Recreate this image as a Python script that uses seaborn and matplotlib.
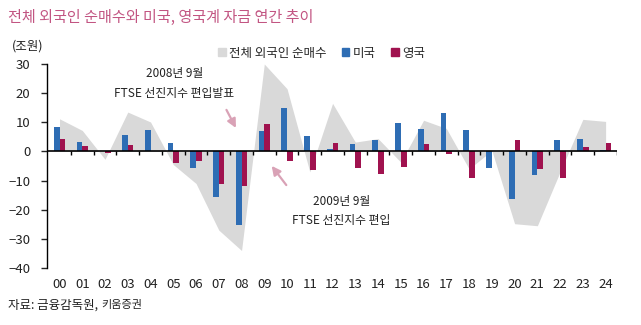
import numpy as np
import pandas as pd
import matplotlib
matplotlib.use("Agg")
import matplotlib.pyplot as plt
from matplotlib.patches import Patch
import seaborn as sns

years = ["00", "01", "02", "03", "04", "05", "06", "07", "08", "09", "10", "11", "12",
         "13", "14", "15", "16", "17", "18", "19", "20", "21", "22", "23", "24"]
total = [11.2, 7.2, -2.7, 13.5, 10.1, -4.5, -11.0, -27.0, -34.0, 30.0, 21.5, -7.0, 16.5,
         3.2, 4.4, -3.7, 10.7, 7.9, -6.0, 0.3, -24.8, -25.5, -7.0, 11.0, 10.3]
usa = [8.4, 3.4, 0.0, 5.5, 7.2, 3.0, -5.6, -15.5, -25.4, 6.9, 15.0, 5.2, 0.8,
       2.5, 3.9, 9.9, 7.7, 13.3, 7.2, -5.6, -16.3, -8.2, 3.8, 4.4, 0.5]
uk = [4.4, 1.7, -0.6, 2.1, 0.3, -3.9, -3.3, -11.1, -12.0, 9.4, -3.3, -6.3, 3.0,
      -5.6, -7.7, -5.2, 2.4, -0.8, -9.0, 0.3, 3.8, -6.0, -9.0, 1.6, 3.0]
series_names = ["미국", "영국"]
total_name = "전체 외국인 순매수"

C_BLUE = "#2E6DB4"
C_RED = "#A0124F"
C_GRAY = "#D9D9D9"
C_TITLE = "#C25582"
C_ARROW = "#D9A2B6"
C_TEXT = "#222222"

sns.set_theme(style="white")
plt.rcParams["font.family"] = ["Noto Sans CJK KR", "DejaVu Sans"]
plt.rcParams["axes.unicode_minus"] = False

df = pd.DataFrame({
    "year": years * 2,
    "country": [series_names[0]] * len(years) + [series_names[1]] * len(years),
    "value": usa + uk,
})

fig = plt.figure(figsize=(6.41, 3.25), dpi=100)
ax = fig.add_axes([47 / 641, 1 - 268 / 325, (617 - 47) / 641, (268 - 64) / 325])

xpos = np.arange(len(years))
ax.fill_between(xpos, total, 0, color=C_GRAY, lw=0, zorder=0)

sns.barplot(data=df, x="year", y="value", hue="country", hue_order=series_names,
            order=years, palette=[C_BLUE, C_RED], width=0.5, linewidth=0,
            saturation=1, ax=ax, legend=False, zorder=2)

ax.set_xlim(-0.55, len(years) - 0.5)
ax.set_ylim(-40, 30)
ax.set_yticks(range(-40, 31, 10))
ax.set_yticklabels([str(v).replace("-", "−") for v in range(-40, 31, 10)])
ax.set_xlabel("")
ax.set_ylabel("")

for s in ["top", "right", "bottom"]:
    ax.spines[s].set_visible(False)
ax.spines["left"].set_color("black")
ax.spines["left"].set_linewidth(1.0)

ax.axhline(0, color="black", lw=1.2, zorder=3)
bounds = xpos + 0.5
ax.vlines(bounds, 0, -1.1, color="black", lw=1.0, zorder=3)

ax.tick_params(axis="y", left=True, length=4, width=1, pad=8, labelsize=9.5,
               labelcolor=C_TEXT)
ax.tick_params(axis="x", bottom=False, length=0, pad=7, labelsize=9.5, labelcolor=C_TEXT)

# annotations
ax.annotate("", xy=(7.81, 7.2), xytext=(7.28, 15.1),
            arrowprops=dict(arrowstyle="-|>", color=C_ARROW, lw=1.6, mutation_scale=13))
ax.annotate("", xy=(9.25, -4.2), xytext=(10.04, -12.3),
            arrowprops=dict(arrowstyle="-|>", color=C_ARROW, lw=1.6, mutation_scale=13))
ax.text(5.05, 26.9, "2008년 9월", ha="center", va="center", fontsize=8.5, color=C_TEXT)
ax.text(5.05, 20.0, "FTSE 선진지수 편입발표", ha="center", va="center", fontsize=8.5, color=C_TEXT)
ax.text(12.39, -17.1, "2009년 9월", ha="center", va="center", fontsize=8.5, color=C_TEXT)
ax.text(12.39, -23.7, "FTSE 선진지수 편입", ha="center", va="center", fontsize=8.5, color=C_TEXT)

# legend
handles = [Patch(color=C_GRAY, label=total_name),
           Patch(color=C_BLUE, label=series_names[0]),
           Patch(color=C_RED, label=series_names[1])]
fig.legend(handles=handles, loc="center left", bbox_to_anchor=(218 / 641, 1 - 53 / 325),
           ncol=3, frameon=False, fontsize=9, handlelength=0.6, handleheight=0.6,
           handletextpad=0.3, columnspacing=1.2, borderaxespad=0, borderpad=0)

fig.text(8 / 641, 1 - 17 / 325, "전체 외국인 순매수와 미국, 영국계 자금 연간 추이",
         ha="left", va="center", fontsize=10.9, color=C_TITLE)
fig.text(28 / 641, 1 - 46 / 325, "(조원)", ha="center", va="center", fontsize=9, color=C_TEXT)
t1 = fig.text(8 / 641, 1 - 305 / 325, "자료: 금융감독원,", ha="left", va="center",
              fontsize=9, color=C_TEXT)
fig.canvas.draw()
bb = t1.get_window_extent()
fig.text(bb.x1 / 641 + 3 / 641, 1 - 305 / 325, "키움증권", ha="left", va="center",
         fontsize=8, color=C_TEXT)

fig.savefig("out.png", dpi=100)
